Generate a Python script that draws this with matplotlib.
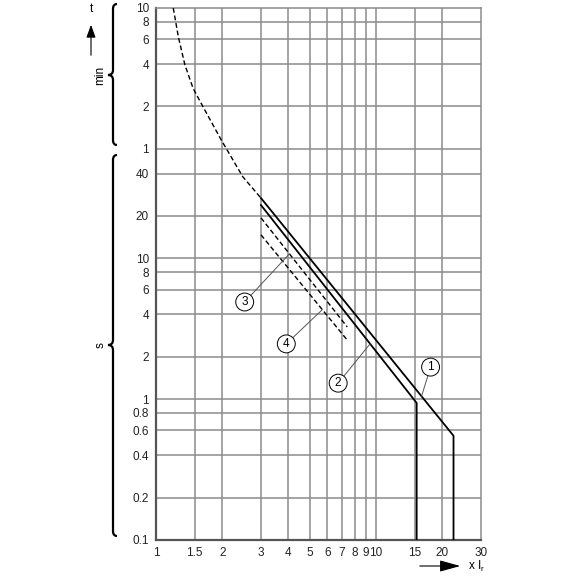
import matplotlib

matplotlib.use("Agg")
import matplotlib.pyplot as plt
import numpy as np
from matplotlib.patches import FancyArrowPatch, PathPatch
from matplotlib.path import Path

plt.rcParams["font.family"] = ["Liberation Sans", "DejaVu Sans"]

# Tripping curve data (x = multiple of Ir, t in seconds)
ir_cold = [1.198, 1.264, 1.353, 1.475, 1.637, 1.983, 2.48, 3.0]
t_cold = [600, 373, 237, 161, 119, 69, 38, 26.8]

ir_c1 = [3.0, 22.5, 22.5]
t_c1 = [26.8, 0.55, 0.1]

ir_c2 = [3.0, 15.3, 15.3]
t_c2 = [23.9, 0.94, 0.1]

ir_c3 = [3.0, 7.4]
t_c3 = [19.4, 3.26]

ir_c4 = [3.0, 7.4]
t_c4 = [14.7, 2.63]

x_ticks = [1, 1.5, 2, 3, 4, 5, 6, 7, 8, 9, 10, 15, 20, 30]
x_labels = ["1", "1.5", "2", "3", "4", "5", "6", "7", "8", "9", "10", "15", "20", "30"]
y_ticks = [0.1, 0.2, 0.4, 0.6, 0.8, 1, 2, 4, 6, 8, 10, 20, 40,
           60, 120, 240, 360, 480, 600]
y_labels = ["0.1", "0.2", "0.4", "0.6", "0.8", "1", "2", "4", "6", "8", "10", "20", "40",
            "1", "2", "4", "6", "8", "10"]

W = H = 580
fig = plt.figure(figsize=(5.8, 5.8), dpi=100)
ax = fig.add_axes([156 / W, 1 - 540 / H, (481 - 156) / W, (540 - 8) / H])
ax.set_xscale("log")
ax.set_yscale("log")
ax.set_xlim(1, 30)
ax.set_ylim(0.1, 600)

grid_c = "#8c8c8c"
for x in x_ticks[1:-1]:
    ax.axvline(x, color=grid_c, lw=1.1, zorder=1)
for y in y_ticks[1:-1]:
    ax.axhline(y, color=grid_c, lw=1.1, zorder=1)

for side in ["left", "bottom"]:
    ax.spines[side].set_color("#555555")
    ax.spines[side].set_linewidth(1.6)
for side in ["top", "right"]:
    ax.spines[side].set_color(grid_c)
    ax.spines[side].set_linewidth(1.1)

ax.set_xticks(x_ticks)
ax.set_xticklabels(x_labels)
ax.set_yticks(y_ticks)
ax.set_yticklabels(y_labels)
ax.minorticks_off()
ax.tick_params(length=0, labelsize=8.5, pad=5, colors="#222222")

# curves
dash = (0, (3.5, 2))
ax.plot(ir_cold, t_cold, color="black", lw=1.0, ls=dash, zorder=3)
ax.plot(ir_c1, t_c1, color="black", lw=1.3, zorder=3)
ax.plot(ir_c2, t_c2, color="black", lw=1.3, zorder=3)
ax.plot(ir_c3, t_c3, color="black", lw=1.0, ls=dash, zorder=3)
ax.plot(ir_c4, t_c4, color="black", lw=1.0, ls=dash, zorder=3)


def on_curve(i, irs, ts):
    return float(np.exp(np.interp(np.log(i), np.log(irs[:2]), np.log(ts[:2]))))


labels = [
    ("1", 16.1, ir_c1, t_c1, (17.7, 1.69)),
    ("2", 9.4, ir_c2, t_c2, (6.73, 1.30)),
    ("3", 4.04, ir_c3, t_c3, (2.53, 4.9)),
    ("4", 5.7, ir_c4, t_c4, (3.91, 2.47)),
]
for txt, i, irs, ts, pos in labels:
    ax.annotate(txt, xy=(i, on_curve(i, irs, ts)), xytext=pos,
                ha="center", va="center", fontsize=8.5, zorder=5,
                bbox=dict(boxstyle="circle,pad=0.25", fc="white", ec="black", lw=0.7),
                arrowprops=dict(arrowstyle="-", color="#555555", lw=0.7,
                                shrinkA=0, shrinkB=0))


def fig_xy(px, py):
    return px / W, 1 - py / H


def brace(x, ytop, ybot, ymid, w=4, tip=5, r=5):
    pts = [(x + w, ytop), (x, ytop), (x, ytop + r),
           (x, ymid - r), (x, ymid), (x - tip, ymid),
           (x, ymid), (x, ymid + r),
           (x, ybot - r), (x, ybot), (x + w, ybot)]
    codes = [Path.MOVETO, Path.CURVE3, Path.CURVE3,
             Path.LINETO, Path.CURVE3, Path.CURVE3,
             Path.CURVE3, Path.CURVE3,
             Path.LINETO, Path.CURVE3, Path.CURVE3]
    path = Path([fig_xy(*p) for p in pts], codes)
    fig.add_artist(PathPatch(path, fc="none", ec="black", lw=1.6,
                             transform=fig.transFigure))


brace(113, 4, 145, 75)
brace(113, 155, 536, 345)
fig.text(*fig_xy(100, 75), "min", rotation=90, ha="center", va="center", fontsize=8.5)
fig.text(*fig_xy(101, 345), "s", rotation=90, ha="center", va="center", fontsize=8.5)

# t arrow
fig.add_artist(FancyArrowPatch(fig_xy(91, 58), fig_xy(91, 22), transform=fig.transFigure,
                               arrowstyle="-|>,head_length=0.55,head_width=0.2",
                               color="black", lw=0.8, mutation_scale=14))
fig.text(*fig_xy(91, 9), "t", ha="center", va="center", fontsize=8.5)

# x Ir arrow
fig.add_artist(FancyArrowPatch(fig_xy(417, 566), fig_xy(463, 566), transform=fig.transFigure,
                               arrowstyle="-|>,head_length=0.9,head_width=0.25",
                               color="black", lw=0.8, mutation_scale=14))
fig.text(*fig_xy(468, 566), r"x I$_\mathregular{r}$", ha="left", va="center", fontsize=8.5)

fig.savefig("out.png", dpi=100)
